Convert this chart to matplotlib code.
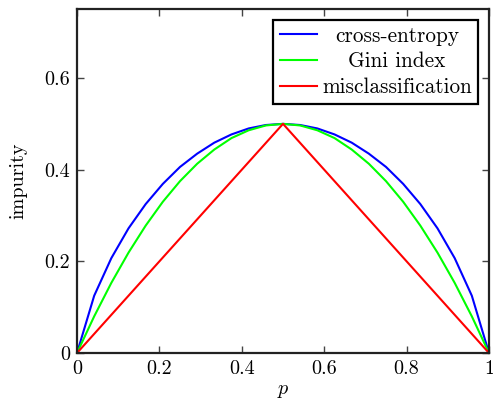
import matplotlib
matplotlib.use("Agg")
import matplotlib.pyplot as plt

plt.rcParams['font.family'] = 'serif'
plt.rcParams['font.serif'] = ['cmr10', 'DejaVu Serif']
plt.rcParams['mathtext.fontset'] = 'cm'
plt.rcParams['axes.formatter.use_mathtext'] = True

p = [0.0, 0.0417, 0.0833, 0.125, 0.1667, 0.2083, 0.25, 0.2917, 0.3333,
     0.375, 0.4167, 0.4583, 0.5, 0.5417, 0.5833, 0.625, 0.6667, 0.7083,
     0.75, 0.7917, 0.8333, 0.875, 0.9167, 0.9583, 1.0]
entropy = [0.0, 0.125, 0.207, 0.272, 0.325, 0.369, 0.406, 0.435, 0.459,
           0.477, 0.490, 0.4975, 0.5, 0.4975, 0.490, 0.477, 0.459, 0.435,
           0.406, 0.369, 0.325, 0.272, 0.207, 0.125, 0.0]
gini = [0.0, 0.080, 0.153, 0.219, 0.278, 0.330, 0.375, 0.413, 0.444,
        0.469, 0.486, 0.4965, 0.5, 0.4965, 0.486, 0.469, 0.444, 0.413,
        0.375, 0.330, 0.278, 0.219, 0.153, 0.080, 0.0]
p_mis = [0.0, 0.5, 1.0]
mis = [0.0, 0.5, 0.0]

xticks = [0, 0.2, 0.4, 0.6, 0.8, 1]
xticklabels = ['0', '0.2', '0.4', '0.6', '0.8', '1']
yticks = [0, 0.2, 0.4, 0.6]
yticklabels = ['0', '0.2', '0.4', '0.6']

fig = plt.figure(figsize=(4.93, 4.04), dpi=100)
ax = fig.add_axes([0.1562, 0.1262, 0.8357, 0.8515])

ax.plot(p, entropy, color='#0000ff', lw=1.5, label='cross-entropy')
ax.plot(p, gini, color='#00ff00', lw=1.5, label='Gini index')
ax.plot(p_mis, mis, color='#ff0000', lw=1.5, label='misclassification')

ax.set_xlim(0, 1)
ax.set_ylim(0, 0.7506)
ax.set_xticks(xticks)
ax.set_xticklabels(xticklabels)
ax.set_yticks(yticks)
ax.set_yticklabels(yticklabels)
ax.tick_params(direction='in', top=True, right=True, length=5, width=1,
               color='#444444', labelsize=14.5, pad=5)
for s in ax.spines.values():
    s.set_linewidth(1.6)
    s.set_color('#222222')

ax.set_xlabel('$p$', fontsize=14.5, labelpad=3)
ax.set_ylabel('impurity', fontsize=14.5, labelpad=12)

leg = ax.legend(loc='upper right', fontsize=15.3, fancybox=False,
                edgecolor='black', framealpha=1, handlelength=1.75,
                borderaxespad=0.5, labelspacing=0.3, borderpad=0.3,
                handletextpad=0.25)
leg.get_frame().set_linewidth(1.6)

# centre the legend texts like pgfplots does
fig.canvas.draw()
r = fig.canvas.get_renderer()
widths = [t.get_window_extent(r).width for t in leg.get_texts()]
wmax = max(widths)
for t, w in zip(leg.get_texts(), widths):
    t.set_x((wmax - w) / 2)

fig.savefig('out.png', dpi=100)
